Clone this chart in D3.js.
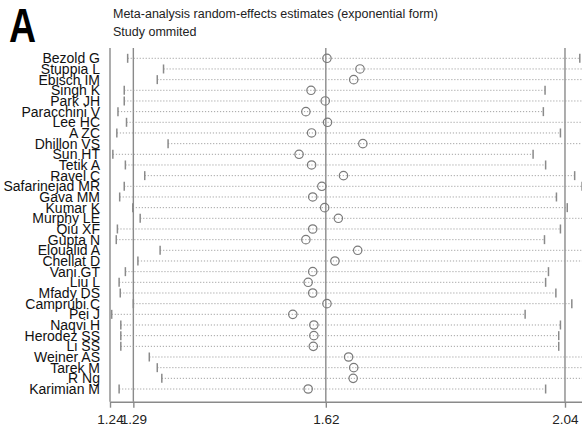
<!DOCTYPE html>
<html>
<head>
<meta charset="utf-8">
<script src="https://cdn.jsdelivr.net/npm/d3@7"></script>
<style>
  body { margin: 0; background: #fff; }
  svg { display: block; font-family: "Liberation Sans", Arial, sans-serif; }
</style>
</head>
<body>
<svg id="chart"></svg>
<script>
// studies, in plot order (top -> bottom)
const studies = [
  'Bezold G', 'Stuppia L', 'Ebisch IM', 'Singh K', 'Park JH', 'Paracchini V',
  'Lee HC', 'A ZC', 'Dhillon VS', 'Sun HT', 'Tetik A', 'Ravel C',
  'Safarinejad MR', 'Gava MM', 'Kumar K', 'Murphy LE', 'Qiu XF', 'Gupta N',
  'Eloualid A', 'Chellat D', 'Vani GT', 'Liu L', 'Mfady DS', 'Camprubi C',
  'Pei J', 'Naqvi H', 'Herodez SS', 'Li SS', 'Weiner AS', 'Tarek M',
  'R Ng', 'Karimian M'
];
// pooled estimate with that study omitted
const estimates = [
  1.622, 1.680, 1.669, 1.594, 1.619, 1.585, 1.623, 1.595, 1.685, 1.573, 1.595, 1.651,
  1.613, 1.597, 1.618, 1.642, 1.597, 1.585, 1.676, 1.636, 1.597, 1.589, 1.597, 1.622,
  1.562, 1.599, 1.599, 1.598, 1.660, 1.669, 1.668, 1.589
];
const lowerCI = [
  1.272, 1.335, 1.324, 1.266, 1.266, 1.255, 1.270, 1.253, 1.343, 1.246, 1.268, 1.302,
  1.266, 1.258, 1.281, 1.294, 1.254, 1.252, 1.329, 1.290, 1.268, 1.257, 1.259, 1.282,
  1.244, 1.260, 1.260, 1.260, 1.310, 1.324, 1.332, 1.257
];
const upperCI = [
  2.066, 2.100, 2.090, 2.005, 2.075, 2.002, 2.080, 2.032, 2.110, 1.984, 2.006, 2.057,
  2.070, 2.025, 2.044, 2.080, 2.032, 2.004, 2.100, 2.080, 2.011, 2.006, 2.024, 2.052,
  1.970, 2.032, 2.029, 2.029, 2.090, 2.100, 2.100, 2.006
];
// axis ticks (min, pooled lower CI, pooled estimate, pooled upper CI)
const tickValues = [1.241, 1.282, 1.62, 2.04];
const tickLabels = ['1.24', '1.29', '1.62', '2.04'];

const titleLines = ['Meta-analysis random-effects estimates (exponential form)', 'Study ommited'];

const width = 582, height = 429;
const plotTop = 48, axisY = 401.7;
const grey = '#8a8a8a';

const svg = d3.select('#chart')
  .attr('width', width)
  .attr('height', height);

const data = studies.map(function(s, i) {
  return { name: s, est: estimates[i], lo: lowerCI[i], hi: upperCI[i] };
});

const x = d3.scaleLinear()
  .domain([1.241, 2.069])
  .range([110, 581.5]);
const y = d3.scalePoint()
  .domain(studies)
  .range([58.3, 389]);

// panel letter
svg.append('text')
  .attr('transform', 'translate(9,42) scale(0.78,1)')
  .attr('font-size', 48)
  .attr('font-weight', 'bold')
  .attr('fill', '#000')
  .text('A');

// titles
svg.selectAll('.title')
  .data(titleLines)
  .enter()
  .append('text')
  .attr('class', 'title')
  .attr('x', 113)
  .attr('y', function(d, i) { return 18 + i * 18; })
  .attr('font-size', 12.5)
  .attr('fill', '#222')
  .text(function(d) { return d; });

// vertical reference lines (axis start, pooled CI + estimate)
svg.selectAll('.ref')
  .data(tickValues)
  .enter()
  .append('line')
  .attr('class', 'ref')
  .attr('x1', function(d) { return x(d); })
  .attr('x2', function(d) { return x(d); })
  .attr('y1', plotTop)
  .attr('y2', axisY)
  .attr('stroke', grey)
  .attr('stroke-width', 1.4);

const rows = svg.append('g');

// dotted CI lines
rows.selectAll('.ci')
  .data(data)
  .enter()
  .append('line')
  .attr('class', 'ci')
  .attr('x1', function(d) { return x(d.lo); })
  .attr('x2', function(d) { return x(d.hi); })
  .attr('y1', function(d) { return y(d.name); })
  .attr('y2', function(d) { return y(d.name); })
  .attr('stroke', '#9a9a9a')
  .attr('stroke-width', 0.9)
  .attr('stroke-dasharray', '1.2,1.8');

// CI end ticks
['lo', 'hi'].forEach(function(k) {
  rows.selectAll('.end-' + k)
    .data(data)
    .enter()
    .append('line')
    .attr('class', 'end-' + k)
    .attr('x1', function(d) { return x(d[k]); })
    .attr('x2', function(d) { return x(d[k]); })
    .attr('y1', function(d) { return y(d.name) - 4.5; })
    .attr('y2', function(d) { return y(d.name) + 4.5; })
    .attr('stroke', grey)
    .attr('stroke-width', 1.5);
});

// estimate circles
rows.selectAll('circle')
  .data(data)
  .enter()
  .append('circle')
  .attr('cx', function(d) { return x(d.est); })
  .attr('cy', function(d) { return y(d.name); })
  .attr('r', 4.2)
  .attr('fill', 'none')
  .attr('stroke', '#7a7a7a')
  .attr('stroke-width', 1.2);

// study labels
svg.selectAll('.label')
  .data(data)
  .enter()
  .append('text')
  .attr('class', 'label')
  .attr('x', 100)
  .attr('y', function(d) { return y(d.name) + 5; })
  .attr('text-anchor', 'end')
  .attr('font-size', 14)
  .attr('fill', '#111')
  .text(function(d) { return d.name; });

// x axis
const xAxis = d3.axisBottom(x)
  .tickValues(tickValues)
  .tickFormat(function(d, i) { return tickLabels[i]; })
  .tickSize(6)
  .tickSizeOuter(0);
const gAxis = svg.append('g')
  .attr('transform', 'translate(0,' + axisY + ')')
  .call(xAxis);
gAxis.select('.domain').attr('stroke', grey).attr('stroke-width', 1.4);
gAxis.selectAll('.tick line').attr('stroke', grey).attr('stroke-width', 1.4);
gAxis.selectAll('.tick text')
  .attr('font-size', 13.5)
  .attr('font-family', '"Liberation Sans", Arial, sans-serif')
  .attr('fill', '#222')
  .attr('dy', '0.95em');
</script>
</body>
</html>
